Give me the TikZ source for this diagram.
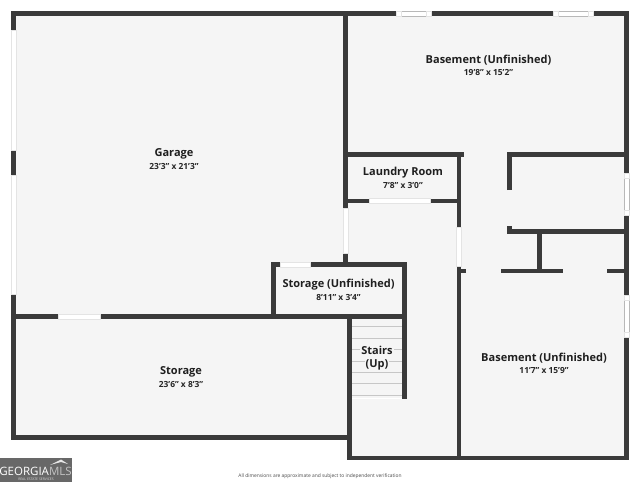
\documentclass[tikz,border=0pt]{standalone}
\usepackage{fontspec}
\setmainfont{Open Sans}
\usepackage{xcolor}
\usepackage{tikz}
\definecolor{wallgray}{HTML}{3A3A3A}
\definecolor{floorgray}{HTML}{F5F5F5}
\definecolor{edgegray}{HTML}{E4E4E4}
\definecolor{logogray}{HTML}{686868}
\tikzset{
    wall/.style={line width=4.8pt,wallgray,line cap=butt},
    frame/.style={fill=white,draw=edgegray,line width=0.6pt},
    glass/.style={fill=white,draw=black!28,line width=0.6pt},
    roomname/.style={font=\bfseries\fontsize{11}{12}\selectfont,text=black!88,inner sep=0pt},
    roomsize/.style={font=\bfseries\fontsize{8.4}{9}\selectfont,text=black!85,inner sep=0pt},
    tread/.style={line width=0.8pt,black!22}
}
\begin{document}
\begin{tikzpicture}[x=1pt,y=-1pt]
    \useasboundingbox (0,0) rectangle (640,482);
    \fill[white] (0,0) rectangle (640,482);
    % Floor
    \fill[floorgray] (13,13) -- (626,13) -- (626,458) -- (349,458) -- (349,437) -- (13,437) -- cycle;

    % Stair treads
    \foreach \y in {326,338,349,361,372,383,395}
        \draw[tread] (352,\y) -- (402,\y);
    \draw[line width=1pt,white] (352,398) -- (402,398);

    % Outer walls
    \draw[wall,line join=miter] (13.5,30) -- (13.5,13.3) -- (626.5,13.3) -- (626.5,173);
    \draw[wall] (13.5,150) -- (13.5,175);
    \draw[wall,line join=miter] (13.5,294) -- (13.5,437.5) -- (349.5,437.5);
    \draw[wall] (626.5,215) -- (626.5,295);
    \draw[wall,line join=miter] (626.5,337) -- (626.5,458) -- (347,458);

    % Inner walls
    \draw[wall] (345.5,13) -- (345.5,208);
    \draw[wall] (345.5,253) -- (345.5,264);
    \draw[wall] (345,154.5) -- (464,154.5);
    \draw[wall] (459,154) -- (459,227);
    \draw[wall] (345,201) -- (369,201);
    \draw[wall] (430,201) -- (459,201);
    \draw[wall] (459,266) -- (459,458);
    \draw[wall] (459,271) -- (466,271);
    \draw[wall,line join=miter] (273.5,317) -- (273.5,264.5) -- (404.5,264.5) -- (404.5,399);
    \draw[wall] (13,316.5) -- (407,316.5);
    \draw[wall] (349.5,316) -- (349.5,458);
    \draw[wall,line join=miter] (509.5,190) -- (509.5,154.5) -- (626,154.5);
    \draw[wall] (509.5,226) -- (509.5,234);
    \draw[wall] (507,231.5) -- (626,231.5);
    \draw[wall] (539.5,231) -- (539.5,271);
    \draw[wall] (501,271) -- (563,271);
    \draw[wall] (607,271) -- (626,271);

    % Door openings
    \filldraw[frame] (11,30) rectangle (16,150);
    \filldraw[frame] (11,175) rectangle (16,294);
    \filldraw[frame] (343,208) rectangle (348,253);
    \filldraw[frame] (369,198.5) rectangle (430,203.5);
    \filldraw[frame] (456.5,227) rectangle (461.5,266);
    \filldraw[frame] (280,262) rectangle (310,267);
    \filldraw[frame] (58,314) rectangle (100,319);

    % Windows
    \foreach \xa/\xb in {396/431,553/593} {
        \filldraw[glass] (\xa,11) rectangle (\xb,16);
        \filldraw[frame] (\xa,11) rectangle ({\xa+5},16);
        \filldraw[frame] ({\xb-5},11) rectangle (\xb,16);
    }
    \foreach \ya/\yb in {173/215,295/337} {
        \filldraw[glass] (624,\ya) rectangle (629,\yb);
        \filldraw[frame] (624,\ya) rectangle (629,{\ya+5});
        \filldraw[frame] (624,{\yb-5}) rectangle (629,\yb);
    }

    % Room labels
    \node[roomname] (garage) at (174,153.5) {Garage};
    \node[roomsize] (garagesize) at (174,166) {23'3" x 21'3"};
    \node[roomname] (basementa) at (488.5,60) {Basement (Unfinished)};
    \node[roomsize] (basementasize) at (488.5,72.5) {19'8" x 15'2"};
    \node[roomname] (laundry) at (403,172.5) {Laundry Room};
    \node[roomsize] (laundrysize) at (403,185) {7'8" x 3'0"};
    \node[roomname] (storagea) at (338.5,284.5) {Storage (Unfinished)};
    \node[roomsize] (storageasize) at (338.5,297) {8'11" x 3'4"};
    \node[roomname] (storageb) at (181,371.5) {Storage};
    \node[roomsize] (storagebsize) at (181,384) {23'6" x 8'3"};
    \node[roomname,fill=floorgray,inner sep=1pt] (stairs) at (377,350.5) {Stairs};
    \node[roomname,fill=floorgray,inner sep=1pt] (stairsup) at (377,365) {(Up)};
    \node[roomname] (basementb) at (544,358.5) {Basement (Unfinished)};
    \node[roomsize] (basementbsize) at (544,371) {11'7" x 15'9"};

    % Footer
    \node[font=\fontsize{4.9}{6}\selectfont,text=black!70,inner sep=0pt] (footnote) at (320,476.5)
        {All dimensions are approximate and subject to independent verification};

    % Logo
    \fill[logogray] (0,458) rectangle (72,482);
    \fill[white!85!logogray] (50,465) -- (61,459.5) -- (68,464) -- (61,462) -- cycle;
    \node[font=\fontsize{11.5}{12}\selectfont,text=white,inner sep=0pt] (logoname) at (35.5,471.5)
        {GEORGIA\textcolor{white!60!logogray}{MLS}};
    \node[font=\fontsize{3.4}{4}\selectfont,text=white!75!logogray,inner sep=0pt] (logotag) at (36,479.5)
        {REAL ESTATE SERVICES};
\end{tikzpicture}
\end{document}
